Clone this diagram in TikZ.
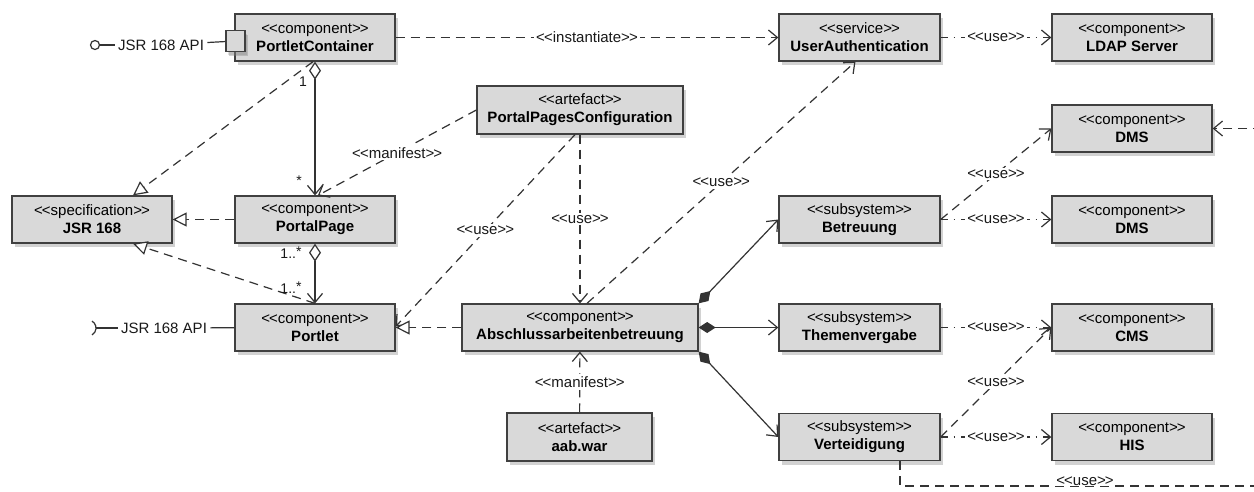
\documentclass[tikz,border=0pt]{standalone}
\usepackage{fontspec}
\setmainfont{Liberation Sans}
\usetikzlibrary{arrows.meta,shadows}
\newcommand{\stt}[1]{<\kern-.06em<#1>\kern-.06em>}
\begin{document}
\begin{tikzpicture}[x=1pt,y=-1pt,
  font=\fontsize{15}{18}\selectfont,
  box/.style={draw=black!75, line width=1.3pt, fill=black!15, align=center, inner sep=0pt,
    minimum height=47pt, text=black,
    drop shadow={opacity=0.35, shadow xshift=3pt, shadow yshift=-4pt}},
  conn/.style={draw=black!80, line width=1.2pt},
  dsh/.style={conn, dash pattern=on 9pt off 6pt},
  dd/.style={conn, dash pattern=on 7pt off 6pt on 1.5pt off 6pt},
  oa/.style={-{Straight Barb[length=9pt,width=15pt]}},
  real/.style={-{Triangle[open,length=14pt,width=14pt,fill=white]}},
  agg/.style={{Diamond[open,length=18pt,width=12pt,fill=white]}-{Straight Barb[length=9pt,width=15pt]}},
  comp/.style={{Diamond[length=17pt,width=11pt]}-{Straight Barb[length=9pt,width=15pt]}},
  lbl/.style={fill=white, inner sep=2pt, text=black!90},
  mult/.style={inner sep=0pt, text=black!90, font=\fontsize{14}{16}\selectfont},
  plain/.style={text=black!90}
]
\fill[white] (0,0) rectangle (1254,491);
\useasboundingbox (0,0) rectangle (1254,491);

% boxes
\node[box, minimum width=160pt] (pc) at (315,37.5) {\stt{component}\\\textbf{PortletContainer}};
\node[box, minimum width=161pt] (ua) at (859.5,37.5) {\stt{service}\\\textbf{UserAuthentication}};
\node[box, minimum width=160pt] (ldap) at (1132,37.5) {\stt{component}\\\textbf{LDAP Server}};
\node[box, minimum width=206pt, minimum height=48pt] (ppc) at (580,110) {\stt{artefact}\\\textbf{PortalPagesConfiguration}};
\node[box, minimum width=160pt] (dmsa) at (1132,128.5) {\stt{component}\\\textbf{DMS}};
\node[box, minimum width=160pt] (jsr) at (92,219.5) {\stt{specification}\\\textbf{JSR 168}};
\node[box, minimum width=160pt] (pp) at (315,219.5) {\stt{component}\\\textbf{PortalPage}};
\node[box, minimum width=161pt] (bet) at (859.5,219.5) {\stt{subsystem}\\\textbf{Betreuung}};
\node[box, minimum width=160pt] (dmsb) at (1132,219.5) {\stt{component}\\\textbf{DMS}};
\node[box, minimum width=160pt] (pl) at (315,327.5) {\stt{component}\\\textbf{Portlet}};
\node[box, minimum width=236pt] (aab) at (580,327.5) {\stt{component}\\\textbf{Abschlussarbeitenbetreuung}};
\node[box, minimum width=161pt] (thv) at (859.5,327.5) {\stt{subsystem}\\\textbf{Themenvergabe}};
\node[box, minimum width=160pt] (cms) at (1132,327.5) {\stt{component}\\\textbf{CMS}};
\node[box, minimum width=145pt, minimum height=48pt] (war) at (579.5,437) {\stt{artefact}\\\textbf{aab.war}};
\node[box, minimum width=161pt] (ver) at (859.5,437) {\stt{subsystem}\\\textbf{Verteidigung}};
\node[box, minimum width=160pt] (his) at (1132,437) {\stt{component}\\\textbf{HIS}};

% port and interfaces
\node[box, minimum width=19pt, minimum height=21pt, drop shadow={opacity=0.25, shadow xshift=2pt, shadow yshift=-3pt}] (port) at (235.5,41) {};
\node[draw=black!80, line width=1.2pt, circle, minimum size=9pt, inner sep=0pt, fill=white] (lolli) at (95,45) {};
\node[plain] (api1) at (161,45) {JSR 168 API};
\draw[conn] (lolli) -- (api1);
\draw[conn] (api1) -- (port);
\coordinate (sock) at (96,328);
\node[plain] (api2) at (164,328) {JSR 168 API};
\draw[conn] (sock) ++(-8,0) ++(-60:8) arc[start angle=-60, end angle=60, radius=8];
\draw[conn] (sock) -- (api2);
\draw[conn] (api2) -- (pl);

% left part
\draw[dsh, oa] (pc) -- node[lbl] {\stt{instantiate}} (ua);
\draw[dd, oa] (ua) -- node[lbl] {\stt{use}} (ldap);
\draw[conn, agg] (pc.south) -- (pp.north);
\node[mult] (m1) at (303,82) {1};
\node[mult] (m2) at (299,181) {*};
\draw[dsh, real] ([xshift=-2pt]pc.south) -- ([xshift=41pt]jsr.north);
\draw[dsh, real] (pp) -- (jsr);
\draw[dsh, real] (pl.north) -- ([xshift=41pt]jsr.south);
\draw[conn, agg] (pp.south) -- (pl.north);
\node[mult] (m3) at (291,253) {1..\raisebox{2pt}{*}};
\node[mult] (m4) at (291,288) {1..\raisebox{2pt}{*}};
\draw[dsh, oa] (ppc.west) -- node[lbl] {\stt{manifest}} ([xshift=3pt]pp.north);
\draw[dsh, oa] ([xshift=-5pt]ppc.south) -- node[lbl] {\stt{use}} ([yshift=1pt]pl.east);
\draw[dsh, oa] (ppc.south) -- node[lbl] {\stt{use}} (aab.north);
\draw[dsh, real] (aab) -- (pl);
\draw[dsh, oa] ([xshift=7pt]aab.north) -- node[lbl] {\stt{use}} ([xshift=-4pt]ua.south);
\draw[dsh, oa] (war) -- node[lbl] {\stt{manifest}} (aab);

% compositions
\draw[conn, comp] (aab.north east) -- (bet.west);
\draw[conn, comp] (aab.east) -- (thv.west);
\draw[conn, comp] (aab.south east) -- (ver.west);

% right part
\draw[dd, oa] (bet.east) -- node[lbl] {\stt{use}} (dmsb.west);
\draw[dsh, oa] (bet.east) -- node[lbl] {\stt{use}} (dmsa.west);
\draw[dd, oa] (thv.east) -- node[lbl] {\stt{use}} (cms.west);
\draw[dsh, oa] (ver.east) -- node[lbl] {\stt{use}} (cms.west);
\draw[dd, oa] (ver.east) -- node[lbl] {\stt{use}} (his.west);

% lines leaving the picture
\coordinate (redge) at (1262,128.5);
\draw[dsh, oa] (redge) -- (dmsa.east);
\coordinate (vbot) at (900,486);
\coordinate (bedge) at (1262,486);
\draw[dsh] ([xshift=40.5pt]ver.south) -- (vbot) -- (bedge);
\node[lbl, inner sep=1pt] (blbl) at (1085,481) {\stt{use}};
\end{tikzpicture}
\end{document}
